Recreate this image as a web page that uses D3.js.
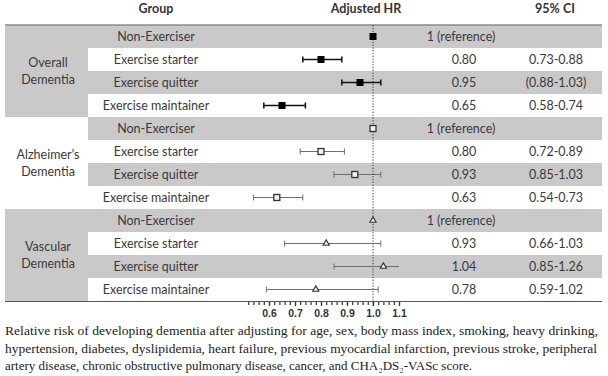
<!DOCTYPE html>
<html><head><meta charset="utf-8">
<script src="https://cdn.jsdelivr.net/npm/d3@7"></script>
<style>
html,body{margin:0;padding:0;background:#fff;}
svg{display:block;}
.cap{font-family:"Liberation Serif","DejaVu Serif","Times New Roman",serif;font-size:13px;fill:#222;}
</style></head>
<body>
<svg id="c" width="608" height="376"></svg>
<script>
// ---- data ----
const groups = ["Overall|Dementia", "Alzheimer’s|Dementia", "Vascular|Dementia"];
const subgroups = ["Non-Exerciser", "Exercise starter", "Exercise quitter", "Exercise maintainer"];
const markerTypes = ["filledSquare", "openSquare", "openTriangle"];
// plotted positions (as drawn in the picture), one array per group
const hrPlot = [[1, 0.80, 0.95, 0.65], [1, 0.80, 0.93, 0.63], [1, 0.82, 1.04, 0.78]];
const ciLow  = [[null, 0.73, 0.88, 0.58], [null, 0.72, 0.85, 0.54], [null, 0.66, 0.85, 0.59]];
const ciHigh = [[null, 0.88, 1.03, 0.74], [null, 0.89, 1.03, 0.73], [null, 1.03, 1.26, 1.02]];
// table text
const hrText = [["1 (reference)", "0.80", "0.95", "0.65"], ["1 (reference)", "0.80", "0.93", "0.63"], ["1 (reference)", "0.93", "1.04", "0.78"]];
const ciText = [["", "0.73-0.88", "(0.88-1.03)", "0.58-0.74"], ["", "0.72-0.89", "0.85-1.03", "0.54-0.73"], ["", "0.66-1.03", "0.85-1.26", "0.59-1.02"]];
const majorTicks = [0.6, 0.7, 0.8, 0.9, 1.0, 1.1];
const minorTicks = d3.range(26, 56).map(i => i / 50);
const headers = ["Group", "Adjusted HR", "95% CI"];
const caption = [
  "Relative risk of developing dementia after adjusting for age, sex, body mass index, smoking, heavy drinking,",
  "hypertension, diabetes, dyslipidemia, heart failure, previous myocardial infarction, previous stroke, peripheral",
  "artery disease, chronic obstructive pulmonary disease, cancer, and CHA₂DS₂-VASc score."
];

// ---- layout ----
const svg = d3.select("#c");
const L = 5, R = 602, groupColR = 88, topY = 25, rowH = 23;
const gray = "#c9c9c9", txt = "#3a3a3a";
const font = "Lato, 'Open Sans', sans-serif";

const rows = [];
groups.forEach((g, gi) => subgroups.forEach((s, si) => rows.push({gi, si, id: gi * 4 + si})));
const y = d3.scaleBand().domain(rows.map(r => r.id)).range([topY, topY + rows.length * rowH]);
const x = d3.scaleLinear().domain([0.6, 1.0]).range([269, 373]);
const xc = v => x(Math.max(0.52, Math.min(1.1, v)));

// backgrounds
groups.forEach((g, gi) => {
  if (gi !== 1) {
    svg.append("rect").attr("x", L).attr("y", y(gi * 4)).attr("width", groupColR - L)
      .attr("height", rowH * 4).attr("fill", gray);
  }
});
svg.selectAll("rect.row").data(rows.filter(r => r.si % 2 === 0)).join("rect")
  .attr("x", groupColR).attr("y", r => y(r.id)).attr("width", R - groupColR)
  .attr("height", rowH).attr("fill", gray);

// lines top/bottom
const yBottom = topY + rows.length * rowH;
svg.append("line").attr("x1", L).attr("x2", R).attr("y1", topY).attr("y2", topY)
  .attr("stroke", "#8a8a8a").attr("stroke-width", 1.5);
svg.append("line").attr("x1", L).attr("x2", R).attr("y1", yBottom + 0.5).attr("y2", yBottom + 0.5)
  .attr("stroke", "#555").attr("stroke-width", 1.2);

// headers
const hx = [156, 366, 555];
headers.forEach((h, i) => svg.append("text").attr("x", hx[i]).attr("y", 13)
  .attr("text-anchor", "middle").attr("font-family", font).attr("font-weight", "bold")
  .attr("font-size", 12.5).attr("fill", "#333").text(h));

// group labels
groups.forEach((g, gi) => {
  const cy = y(gi * 4) + rowH * 2;
  g.split("|").forEach((t, k) => svg.append("text").attr("x", 48).attr("y", cy - 8.5 + k * 17 + 4.5)
    .attr("text-anchor", "middle").attr("font-family", font).attr("font-size", 12.5)
    .attr("fill", txt).text(t));
});

// row labels and table values
rows.forEach(r => {
  const cy = y(r.id) + rowH / 2 + 4.5;
  svg.append("text").attr("x", 156).attr("y", cy).attr("text-anchor", "middle")
    .attr("font-family", font).attr("font-size", 12.5).attr("fill", txt).text(subgroups[r.si]);
  svg.append("text").attr("x", r.si === 0 ? 461 : 464).attr("y", cy).attr("text-anchor", "middle")
    .attr("font-family", font).attr("font-size", 12.5).attr("fill", txt).text(hrText[r.gi][r.si]);
  svg.append("text").attr("x", 556).attr("y", cy).attr("text-anchor", "middle")
    .attr("font-family", font).attr("font-size", 12.5).attr("fill", txt).text(ciText[r.gi][r.si]);
});

// reference dotted line
svg.append("line").attr("x1", x(1)).attr("x2", x(1)).attr("y1", topY).attr("y2", yBottom + 5)
  .attr("stroke", "#333").attr("stroke-width", 1).attr("stroke-dasharray", "1.2,1.6");

// CIs and markers
rows.forEach(r => {
  const cy = y(r.id) + rowH / 2;
  const lo = ciLow[r.gi][r.si], hi = ciHigh[r.gi][r.si];
  const isOverall = r.gi === 0;
  const col = isOverall ? "#111" : "#6e6e6e";
  const sw = isOverall ? 1.5 : 1;
  if (lo !== null) {
    svg.append("line").attr("x1", xc(lo)).attr("x2", xc(hi)).attr("y1", cy).attr("y2", cy)
      .attr("stroke", col).attr("stroke-width", sw);
    [lo, hi].forEach(v => {
      if (v >= 0.52 && v <= 1.1) {
        svg.append("line").attr("x1", x(v)).attr("x2", x(v)).attr("y1", cy - 3).attr("y2", cy + 3)
          .attr("stroke", col).attr("stroke-width", sw);
      }
    });
  }
  const px = x(hrPlot[r.gi][r.si]);
  const m = markerTypes[r.gi];
  if (m === "filledSquare") {
    svg.append("rect").attr("x", px - 3.5).attr("y", cy - 3.5).attr("width", 7).attr("height", 7).attr("fill", "#000");
  } else if (m === "openSquare") {
    svg.append("rect").attr("x", px - 3).attr("y", cy - 3).attr("width", 6).attr("height", 6)
      .attr("fill", "#f2f2f2").attr("stroke", "#333").attr("stroke-width", 1.3);
  } else {
    svg.append("path").attr("d", d3.symbol(d3.symbolTriangle, 17)())
      .attr("transform", `translate(${px},${cy})`)
      .attr("fill", "#f2f2f2").attr("stroke", "#333").attr("stroke-width", 1.1);
  }
});

// axis
const axG = svg.append("g").attr("transform", `translate(0,${yBottom + 1})`);
axG.call(d3.axisBottom(x).tickValues(minorTicks).tickSize(3).tickFormat(""))
  .call(g => g.select(".domain").remove());
axG.selectAll(".tick line").attr("stroke", "#333").attr("stroke-width", 1.2);
const axM = svg.append("g").attr("transform", `translate(0,${yBottom + 1})`);
axM.call(d3.axisBottom(x).tickValues(majorTicks).tickSize(4).tickPadding(4).tickFormat(d3.format(".1f")))
  .call(g => g.select(".domain").remove());
axM.selectAll(".tick line").attr("stroke", "#333").attr("stroke-width", 1.2);
axM.selectAll(".tick text").attr("font-family", "'Liberation Sans', Arial, sans-serif")
  .attr("font-weight", "bold").attr("font-size", 10.5).attr("fill", "#333");

// caption
const capW = [593, 592, 467];
caption.forEach((t, i) => svg.append("text").attr("class", "cap").attr("x", 5).attr("y", 335 + i * 17.5)
  .attr("textLength", capW[i]).attr("lengthAdjust", "spacingAndGlyphs").text(t));
</script>
</body></html>
